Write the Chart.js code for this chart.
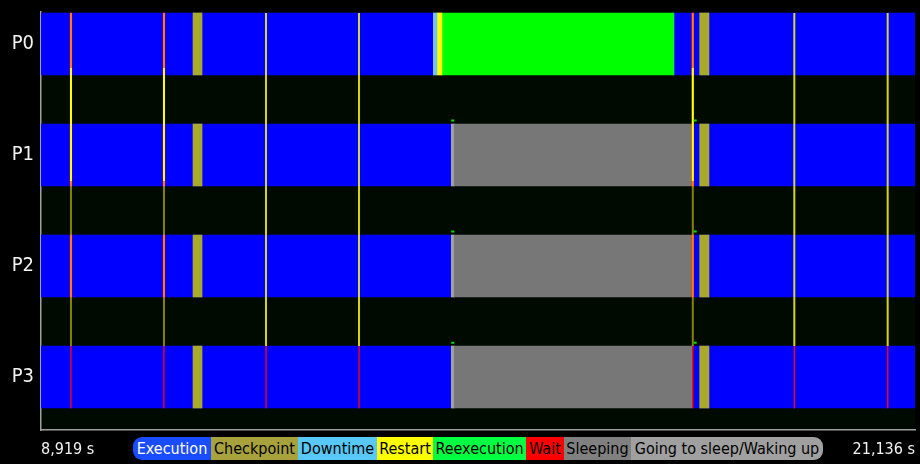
<!DOCTYPE html>
<html>
<head>
<meta charset="utf-8">
<script src="https://cdn.jsdelivr.net/npm/chart.js@4/dist/chart.umd.min.js"></script>
<style>
  html, body { margin: 0; padding: 0; background: #000; }
  #wrap { position: relative; width: 920px; height: 464px; overflow: hidden; }
  #legend { position: absolute; left: 133px; top: 437px; height: 23px; display: flex;
            border-radius: 9px; overflow: hidden;
            font-family: "DejaVu Sans Condensed", "DejaVu Sans", sans-serif; font-size: 16px; line-height: 23px; }
  #legend span { display: block; white-space: nowrap; text-align: center; box-sizing: border-box; }
</style>
</head>
<body>
<div id="wrap">
  <canvas id="c" width="920" height="464"></canvas>
  <div id="legend"></div>
</div>
<script>
// ---------------- data ----------------
const processes = ['P0', 'P1', 'P2', 'P3'];
const timeStart = 8919;
const timeEnd = 21136;

// segments: [processIndex, start (s), end (s)]
const execution = [
  [0, 8919, 14403], [0, 17767, 21136],
  [1, 8919, 14654], [1, 18042, 21136],
  [2, 8919, 14654], [2, 18042, 21136],
  [3, 8919, 14654], [3, 18042, 21136]
];
const checkpoint = [
  [0, 11044, 11170], [1, 11044, 11170], [2, 11044, 11170], [3, 11044, 11170],
  [0, 18126, 18256], [1, 18126, 18256], [2, 18126, 18256], [3, 18126, 18256]
];
const downtime = [[0, 14403, 14454]];
const restart = [[0, 14454, 14524]];
const reexecution = [[0, 14524, 17767]];
const wait = [
  [0, 9326, 9350], [1, 9326, 9350], [2, 9326, 9350], [3, 9332, 9342],
  [0, 10626, 10650], [1, 10626, 10650], [2, 10626, 10650], [3, 10632, 10642],
  [3, 12060, 12070], [3, 13360, 13370],
  [0, 18018, 18042], [1, 18018, 18042], [2, 18018, 18042], [3, 18026, 18036],
  [3, 19444, 19454], [3, 20750, 20760]
];
const sleeping = [[1, 14696, 18018], [2, 14696, 18018], [3, 14696, 18026]];
const goingToSleep = [[1, 14654, 14696], [2, 14654, 14696], [3, 14654, 14696]];

// vertical links: [time (s), from (process units), to (process units)]
const failureLinks = [[9338, -0.28, 2.72], [10638, -0.28, 2.72], [18030, -0.28, 2.72]];
const restartLinks = [[9338, 0.216, 1.234], [10638, 0.216, 1.234], [18030, 0.216, 1.234]];
const syncLinks = [[12064, -0.28, 2.72], [13364, -0.28, 2.72], [19449, -0.28, 2.72], [20754, -0.28, 2.72]];
// state-change flags: [processIndex, time (s)]
const flags = [[1, 14654], [2, 14654], [3, 14654], [1, 18042], [2, 18042], [3, 18042]];

const legendLabels = ['Execution', 'Checkpoint', 'Downtime', 'Restart', 'Reexecution', 'Wait', 'Sleeping', 'Going to sleep/Waking up'];

// ---------------- styles ----------------
const barColors = {
  Execution: '#0000ff', Checkpoint: '#aaaa2a', Downtime: '#78c2f2', Restart: '#ffff00',
  Reexecution: '#00ff00', Wait: '#ff0000', Sleeping: '#777777', 'Going to sleep/Waking up': '#a0a0a0'
};
const legendStyle = {
  Execution: ['#1a4cff', '#ffffff', 78], Checkpoint: ['#a8a23c', '#000', 87], Downtime: ['#58c8f8', '#000', 79],
  Restart: ['#ffff00', '#000', 56], Reexecution: ['#00ff40', '#000', 93], Wait: ['#ff0000', '#000', 38],
  Sleeping: ['#808080', '#000', 67], 'Going to sleep/Waking up': ['#a0a0a0', '#000', 192]
};
const FONT = '"DejaVu Sans Condensed", "DejaVu Sans", sans-serif';

// legend (HTML, real text)
const lg = document.getElementById('legend');
legendLabels.forEach(name => {
  const s = document.createElement('span');
  s.textContent = name;
  const st = legendStyle[name];
  s.style.background = st[0]; s.style.color = st[1]; s.style.width = st[2] + 'px';
  lg.appendChild(s);
});

function barSet(label, segs, order) {
  return {
    type: 'bar', label, indexAxis: 'y', grouped: false, barThickness: 62,
    data: segs.map(s => ({ x: [s[1], s[2]], y: s[0] })),
    backgroundColor: barColors[label], borderWidth: 0, borderSkipped: false, order
  };
}
function linkSet(label, links, color, order) {
  const data = [];
  links.forEach(l => { data.push({ x: l[0], y: l[1] }, { x: l[0], y: l[2] }, { x: l[0], y: NaN }); });
  return { type: 'line', label, data, borderColor: color, borderWidth: 2, pointRadius: 0,
           spanGaps: false, fill: false, tension: 0, order };
}
function flagSet(label, fl, color, order) {
  const data = [];
  fl.forEach(f => { data.push({ x: f[1], y: f[0] - 0.31 }, { x: f[1] + 42, y: f[0] - 0.31 }, { x: f[1], y: NaN }); });
  return { type: 'line', label, data, borderColor: color, borderWidth: 2, pointRadius: 0,
           spanGaps: false, fill: false, order };
}

const bgPlugin = {
  id: 'plotBg',
  beforeDraw(chart) {
    const { ctx, chartArea: a } = chart;
    ctx.save();
    ctx.fillStyle = '#000a00';
    ctx.fillRect(a.left, a.top, a.right - a.left, a.bottom - a.top);
    ctx.restore();
  }
};

new Chart(document.getElementById('c'), {
  type: 'bar',
  data: {
    datasets: [
      barSet('Execution', execution, 20),
      barSet('Checkpoint', checkpoint, 15),
      barSet('Downtime', downtime, 15),
      barSet('Restart', restart, 15),
      barSet('Reexecution', reexecution, 15),
      barSet('Sleeping', sleeping, 15),
      barSet('Going to sleep/Waking up', goingToSleep, 15),
      barSet('Wait', wait, 10),
      linkSet('failureLinks', failureLinks, 'rgba(255,255,0,0.5)', 5),
      linkSet('restartLinks', restartLinks, 'rgba(255,255,0,1)', 4),
      linkSet('syncLinks', syncLinks, 'rgba(250,250,20,0.85)', 5),
      flagSet('flags', flags, '#00dd00', 3)
    ]
  },
  options: {
    responsive: false,
    animation: false,
    devicePixelRatio: 1,
    layout: { padding: { top: 12, right: 5, left: 0, bottom: 0 } },
    plugins: { legend: { display: false }, tooltip: { enabled: false } },
    scales: {
      x: {
        type: 'linear', min: timeStart, max: timeEnd, offset: false,
        grid: { display: false, drawTicks: false, offset: false },
        border: { display: true, color: '#a0a0a0', width: 1.5 },
        afterBuildTicks: (s) => { s.ticks = [{ value: timeStart }, { value: timeEnd }]; },
        afterFit: (s) => { s.height = 34; s.paddingLeft = 0; s.paddingRight = 0; },
        ticks: {
          align: 'inner', maxRotation: 0, autoSkip: false, padding: 10, color: '#f2f2f2',
          font: { family: FONT, size: 16 },
          callback: (v) => Number(v).toLocaleString('en-US') + ' s'
        }
      },
      y: {
        type: 'linear', reverse: true, min: -0.288, max: 3.477, offset: false,
        grid: { display: false, drawTicks: false, offset: false },
        border: { display: true, color: '#a0a0a0', width: 1.5 },
        afterBuildTicks: (s) => { s.ticks = processes.map((p, i) => ({ value: i })); },
        afterFit: (s) => { s.width = 41; s.paddingTop = 0; s.paddingBottom = 0; },
        ticks: {
          padding: 7, color: '#f2f2f2', font: { family: FONT, size: 20 },
          callback: (v) => processes[v]
        }
      }
    }
  },
  plugins: [bgPlugin]
});
</script>
</body>
</html>
